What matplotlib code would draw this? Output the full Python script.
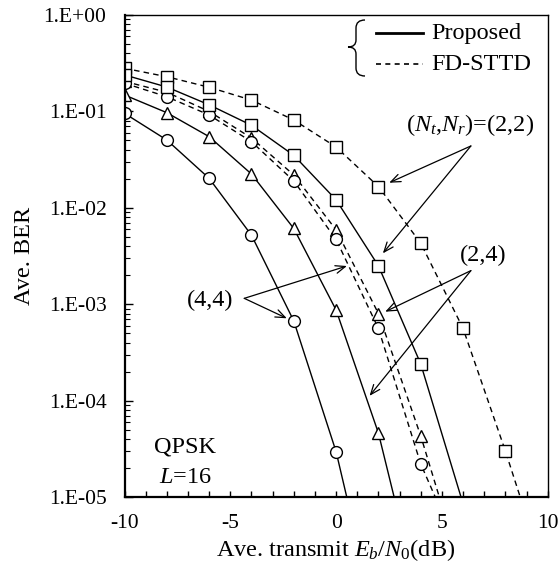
import numpy as np
import matplotlib
matplotlib.use('Agg')
import matplotlib.pyplot as plt
from matplotlib.path import Path
from matplotlib.patches import PathPatch
from matplotlib.ticker import LogLocator, FuncFormatter, MultipleLocator, NullFormatter

plt.rcParams['font.family'] = ['Liberation Serif', 'DejaVu Serif']
plt.rcParams['mathtext.fontset'] = 'custom'
plt.rcParams['mathtext.rm'] = 'Liberation Serif'
plt.rcParams['mathtext.it'] = 'Liberation Serif:italic'
plt.rcParams['axes.unicode_minus'] = False

# Eb/N0 grid (dB); each series uses the leading part of it
snr_db = [-10, -8, -6, -4, -2, 0, 2, 4, 6, 8, 10]

# Proposed scheme
ber_prop_22 = [0.239, 0.179, 0.117, 0.0718, 0.0350, 0.0121, 2.5e-3, 2.4e-4, 8.5e-6]
ber_prop_24 = [0.148, 0.097, 0.0547, 0.0224, 6.1e-3, 8.7e-4, 4.6e-5, 7.5e-7]
ber_prop_44 = [0.0955, 0.0505, 0.0202, 5.2e-3, 6.7e-4, 2.95e-5, 4.0e-7]

# FD-STTD
ber_fd_22 = [0.280, 0.229, 0.178, 0.131, 0.0814, 0.0427, 0.0166, 4.3e-3, 5.6e-4, 3.0e-5, 1.3e-6]
ber_fd_24 = [0.205, 0.158, 0.100, 0.053, 0.0219, 5.9e-3, 8.0e-4, 4.3e-5, 1.55e-6]
ber_fd_44 = [0.196, 0.142, 0.0918, 0.0485, 0.0190, 4.7e-3, 5.6e-4, 2.2e-5, 2.2e-6]

FS = 17.5
DASH = (4.0, 3.0)

W, H = 560, 569
AX_L, AX_R, AX_T, AX_B = 124.5, 547.7, 15.0, 497.0


def px_to_axes(px, py):
    """Convert figure pixel position to axes fraction."""
    return ((px - AX_L) / (AX_R - AX_L), (AX_B - py) / (AX_B - AX_T))


def draw_series(ax, ber, marker, dashed):
    x = snr_db[:len(ber)]
    kw = dict(color='black', lw=1.0, marker=marker, ms=8.5,
              mfc='white', mec='black', mew=1.0)
    if dashed:
        ax.plot(x, ber, linestyle=(0, DASH), **kw)
    else:
        ax.plot(x, ber, linestyle='-', **kw)


def arrow(ax, start, end):
    ax.annotate('', xy=end, xytext=start,
                arrowprops=dict(arrowstyle='->,head_length=0.7,head_width=0.28',
                                mutation_scale=10, color='black', lw=0.9,
                                shrinkA=0, shrinkB=0))


def draw_brace(ax):
    pts = [(365, 20), (356, 20), (356, 28), (356, 40), (356, 47), (348, 47),
           (356, 47), (356, 54), (356, 68), (356, 76), (365, 76)]
    codes = [Path.MOVETO, Path.CURVE3, Path.CURVE3, Path.LINETO,
             Path.CURVE3, Path.CURVE3, Path.CURVE3, Path.CURVE3,
             Path.LINETO, Path.CURVE3, Path.CURVE3]
    verts = [px_to_axes(x, y) for x, y in pts]
    patch = PathPatch(Path(verts, codes), fc='none', ec='black', lw=1.0,
                      transform=ax.transAxes, clip_on=False)
    ax.add_patch(patch)


def draw_legend(ax):
    x0, _ = px_to_axes(376, 0)
    x1, _ = px_to_axes(423, 0)
    xt, _ = px_to_axes(431, 0)
    _, y_solid = px_to_axes(0, 33)
    _, y_dash = px_to_axes(0, 64)
    ax.plot([x0, x1], [y_solid, y_solid], color='black', lw=2.0,
            transform=ax.transAxes)
    ax.plot([x0, x1], [y_dash, y_dash], color='black', lw=1.2,
            linestyle=(0, (3.0, 2.6)), transform=ax.transAxes)
    ax.text(xt, y_solid, 'Proposed', fontsize=FS, va='center', ha='left',
            transform=ax.transAxes)
    ax.text(xt, y_dash, 'FD-STTD', fontsize=FS, va='center', ha='left',
            transform=ax.transAxes)
    draw_brace(ax)


if __name__ == "__main__":
    fig = plt.figure(figsize=(W / 100, H / 100), dpi=100)
    ax = fig.add_axes([AX_L / W, 1 - AX_B / H, (AX_R - AX_L) / W, (AX_B - AX_T) / H])

    draw_series(ax, ber_fd_22, 's', True)
    draw_series(ax, ber_fd_24, '^', True)
    draw_series(ax, ber_fd_44, 'o', True)
    draw_series(ax, ber_prop_22, 's', False)
    draw_series(ax, ber_prop_24, '^', False)
    draw_series(ax, ber_prop_44, 'o', False)

    ax.set_yscale('log')
    ax.set_xlim(-10, 10)
    ax.set_ylim(1e-5, 1)

    ax.xaxis.set_major_locator(MultipleLocator(5))
    ax.xaxis.set_minor_locator(MultipleLocator(1))
    ax.yaxis.set_major_locator(LogLocator(base=10, numticks=10))
    ax.yaxis.set_minor_locator(LogLocator(base=10, subs=np.arange(2, 10), numticks=20))
    ax.yaxis.set_minor_formatter(NullFormatter())
    ax.yaxis.set_major_formatter(FuncFormatter(
        lambda v, pos: '1.E%+03d' % int(round(np.log10(v)))))

    ax.tick_params(axis='both', which='both', direction='in',
                   top=False, right=False, labelsize=15.5)
    ax.tick_params(axis='x', which='both', length=4, width=1, pad=12)
    ax.tick_params(axis='y', which='major', length=6, width=1, pad=13)
    ax.tick_params(axis='y', which='minor', length=3.5, width=0.8)

    for side in ('left', 'bottom'):
        ax.spines[side].set_linewidth(1.6)
    for side in ('top', 'right'):
        ax.spines[side].set_linewidth(1.0)

    ax.set_xlabel('Ave. transmit $E_b/N_0$(dB)', fontsize=FS, labelpad=3)
    ax.set_ylabel('Ave. BER', fontsize=FS, labelpad=6)

    # curve labels with pointer arrows
    ax.text(6.34, 0.0722, '($N_t$,$N_r$)=(2,2)', fontsize=FS, ha='center', va='center')
    arrow(ax, (6.37, 0.0438), (2.51, 0.0182))
    arrow(ax, (6.37, 0.0438), (2.21, 3.37e-3))

    ax.text(6.95, 3.24e-3, '(2,4)', fontsize=FS, ha='center', va='center')
    arrow(ax, (6.37, 2.23e-3), (2.32, 8.36e-4))
    arrow(ax, (6.37, 2.23e-3), (1.58, 1.12e-4))

    ax.text(-5.96, 1.1e-3, '(4,4)', fontsize=FS, ha='center', va='center')
    arrow(ax, (-4.34, 1.15e-3), (-2.33, 7.14e-4))
    arrow(ax, (-4.34, 1.15e-3), (0.51, 2.49e-3))

    ax.text(-8.6, 3.3e-5, 'QPSK', fontsize=FS, ha='left', va='center')
    ax.text(-8.35, 1.6e-5, '$L$=16', fontsize=FS, ha='left', va='center')

    draw_legend(ax)

    fig.savefig('out.png', dpi=100)
    plt.close(fig)
